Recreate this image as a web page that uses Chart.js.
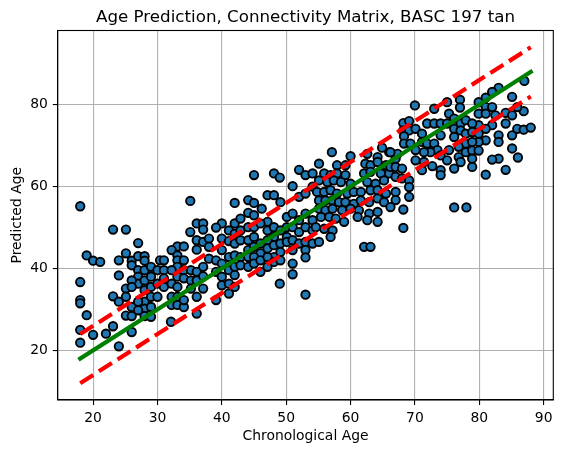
<!DOCTYPE html>
<html>
<head>
<meta charset="utf-8">
<script src="https://cdn.jsdelivr.net/npm/chart.js@4/dist/chart.umd.min.js"></script>
<style>
  body { margin: 0; background: #fff; }
  canvas { display: block; }
</style>
</head>
<body>
<canvas id="ageChart" width="566" height="453"></canvas>
<script>
const chartTitle = "Age Prediction, Connectivity Matrix, BASC 197 tan";
const xLabel = "Chronological Age";
const yLabel = "Predicted Age";

const xTicks = [20, 30, 40, 50, 60, 70, 80, 90];
const yTicks = [20, 40, 60, 80];

// reference lines: identity and +/- 6 years
const lineX = [18, 88];
const identityY = [18, 88];
const upperY = [24, 94];
const lowerY = [12, 82];

// chronological age of each subject
const chronological = [
  18.0, 23.1, 25.1, 27.0, 19.0, 20.0, 21.1, 24.0, 25.1, 26.0,
  26.0, 27.0, 28.0, 28.0, 24.0, 18.0, 18.0, 18.0, 23.1, 24.0,
  25.1, 25.1, 25.1, 26.0, 26.0, 19.0, 18.0, 18.0, 20.0, 22.0,
  23.1, 24.0, 26.0, 27.0, 27.0, 27.0, 28.0, 28.0, 28.0, 28.0,
  28.0, 28.0, 26.0, 26.0, 27.0, 27.0, 29.0, 29.0, 29.0, 29.0,
  29.0, 29.0, 30.0, 30.0, 30.0, 30.4,
  35.1, 36.1, 37.1, 35.1, 37.1, 40.0, 39.1, 41.1, 36.1, 36.1,
  37.1, 38.0, 38.0, 40.0, 40.0, 41.1, 33.1, 34.1, 32.2, 33.1,
  31.0, 33.1, 33.1, 34.1, 31.0, 31.0, 31.0, 32.2, 32.2, 32.2,
  32.2, 33.1, 33.1, 33.1, 33.1, 34.1, 34.1, 34.1, 35.2, 35.2,
  35.2, 36.1, 36.1, 36.1, 37.1, 37.1, 37.1, 38.0, 39.1, 39.1,
  39.1, 40.0, 40.0, 40.0, 41.1, 41.1, 41.1, 41.1, 32.1, 36.1,
  34.1,
  45.0, 48.1, 49.0, 52.0, 53.0, 54.1, 51.0, 52.0, 53.0, 54.1,
  47.1, 48.1, 49.1, 42.0, 44.1, 45.0, 46.2, 44.1, 45.0, 42.0,
  42.9, 47.1, 47.1, 48.1, 48.1, 49.1, 50.1, 50.1, 50.1, 51.0,
  51.0, 52.0, 52.0, 53.0, 53.0, 54.1, 54.1, 42.0, 42.9, 44.1,
  45.0, 46.0, 42.0, 42.9, 44.1, 44.1, 45.0, 45.0, 46.0, 46.0,
  47.1, 47.1, 48.1, 48.1, 49.1, 49.1, 50.1, 51.0, 51.0, 52.0,
  53.0, 53.0, 53.0, 54.1, 42.0, 42.0, 42.0, 42.0, 42.9, 42.9,
  44.1, 44.1, 45.0, 45.0, 46.0, 46.0, 47.1, 47.1, 48.1, 49.1,
  51.0, 51.0, 49.0, 53.0,
  57.1, 60.0, 62.6, 64.2, 66.0, 55.1, 57.9, 59.2, 62.3, 63.1,
  64.2, 65.5, 55.9, 56.9, 57.9, 59.2, 62.1, 63.1, 64.7, 66.0,
  55.1, 56.4, 57.4, 58.5, 60.0, 62.6, 63.9, 65.2, 54.8, 55.9,
  56.9, 57.9, 59.5, 60.5, 61.6, 63.1, 64.2, 65.5, 55.1, 56.1,
  57.2, 58.2, 59.2, 60.5, 61.6, 62.9, 64.2, 65.2, 55.1, 56.1,
  57.2, 58.7, 60.0, 61.3, 62.9, 64.2, 55.4, 56.7, 57.7, 59.0,
  61.1, 62.6, 64.2, 54.6, 55.9, 57.2, 55.1, 56.9, 62.1, 63.1,
  64.9,
  70.0, 73.0, 75.0, 77.0, 77.0, 68.2, 69.1, 68.2, 69.1, 68.3,
  68.3, 69.3, 70.1, 71.1, 71.1, 71.9, 73.0, 74.0, 71.9, 73.0,
  74.0, 75.0, 75.3, 76.1, 76.1, 76.1, 77.1, 77.1, 77.9, 77.9,
  77.9, 76.8, 76.8, 77.9, 75.3, 73.5, 74.0, 72.4, 71.4, 70.1,
  70.1, 71.4, 71.1, 72.7, 74.0, 74.0, 75.0, 76.1, 77.1, 67.0,
  67.3, 66.2, 66.2, 67.0, 68.0, 67.0, 68.0, 69.1, 69.1, 69.1,
  67.0, 67.0, 66.2, 68.2, 68.2, 76.1, 78.0,
  87.0, 85.1, 83.0, 82.0, 81.0, 79.9, 81.0, 82.0, 79.9, 81.0,
  82.5, 84.1, 85.1, 86.9, 85.9, 84.1, 82.0, 81.0, 79.9, 78.9,
  78.9, 79.9, 81.0, 79.9, 78.9, 78.9, 79.9, 78.9, 78.9, 83.0,
  83.0, 85.1, 85.9, 86.9, 88.0, 85.1, 86.0, 83.0, 82.0, 84.1,
  81.0
];

// model prediction for the same subjects
const predicted = [
  55.2, 49.5, 49.5, 46.2, 43.2, 41.9, 41.6, 42.0, 43.7, 41.9,
  40.8, 43.0, 43.0, 41.9, 38.3, 36.7, 32.3, 31.5, 33.2, 31.9,
  35.1, 33.1, 28.5, 30.6, 28.4, 28.6, 25.0, 21.9, 23.8, 24.1,
  25.9, 21.0, 24.5, 39.6, 38.0, 36.3, 39.6, 37.1, 34.7, 31.9,
  30.2, 28.4, 37.1, 35.5, 31.9, 29.8, 40.4, 38.0, 35.5, 33.1,
  30.6, 28.2, 39.6, 36.3, 33.1, 42.0,
  56.5, 51.0, 51.0, 48.9, 49.5, 51.0, 50.0, 49.3, 46.9, 44.6,
  46.5, 47.3, 45.3, 47.3, 44.5, 46.7, 45.4, 45.4, 44.5, 43.2,
  42.0, 42.0, 40.4, 42.0, 39.6, 37.6, 35.5, 39.6, 36.3, 33.1,
  31.1, 38.0, 35.5, 33.1, 31.1, 39.6, 37.6, 30.6, 39.6, 37.1,
  35.1, 39.2, 37.1, 33.1, 40.4, 38.1, 35.1, 42.4, 42.0, 39.2,
  32.3, 41.2, 38.0, 35.9, 42.8, 39.6, 36.3, 33.9, 27.0, 29.0,
  32.3,
  62.8, 63.2, 62.2, 64.1, 62.8, 63.2, 60.1, 57.5, 58.3, 60.0,
  57.9, 57.9, 56.2, 56.0, 56.7, 56.0, 54.6, 53.6, 53.0, 51.0,
  52.2, 51.4, 49.3, 50.1, 47.7, 49.3, 52.6, 50.1, 47.7, 53.4,
  50.1, 51.8, 48.9, 53.4, 50.1, 51.8, 49.3, 48.5, 49.3, 50.1,
  50.1, 51.0, 46.1, 46.9, 46.9, 44.5, 47.7, 45.3, 46.1, 43.7,
  46.9, 44.9, 45.7, 42.8, 46.1, 44.0, 46.5, 46.9, 44.5, 46.1,
  46.5, 44.5, 42.7, 46.1, 43.2, 40.4, 38.4, 35.5, 42.8, 40.8,
  42.8, 40.4, 42.8, 41.2, 42.0, 39.2, 42.8, 40.4, 41.6, 42.0,
  41.2, 38.6, 36.3, 33.6,
  68.4, 67.4, 68.0, 67.2, 68.4, 65.6, 65.2, 65.2, 65.6, 65.2,
  66.0, 65.2, 63.2, 62.8, 63.2, 62.8, 63.2, 63.6, 63.2, 63.2,
  61.5, 61.1, 61.5, 61.1, 60.7, 61.1, 60.7, 61.5, 58.7, 58.7,
  59.1, 58.3, 58.3, 58.7, 58.7, 59.1, 59.1, 58.3, 56.6, 56.6,
  56.6, 56.2, 56.2, 55.8, 56.6, 56.2, 57.1, 56.2, 54.6, 54.2,
  54.6, 54.2, 54.6, 54.2, 53.4, 53.8, 52.6, 52.6, 52.2, 51.4,
  52.6, 51.8, 51.4, 50.1, 49.7, 49.3, 46.5, 47.7, 45.3, 45.3,
  69.5,
  79.8, 79.0, 80.6, 81.2, 79.3, 75.5, 76.0, 73.7, 73.7, 72.3,
  70.5, 70.5, 74.1, 72.9, 70.9, 75.4, 75.4, 75.4, 70.5, 70.5,
  72.5, 75.4, 77.8, 76.6, 74.1, 72.1, 75.4, 73.7, 76.2, 72.9,
  70.5, 69.7, 67.2, 68.4, 68.9, 68.9, 67.6, 68.4, 68.4, 68.9,
  66.4, 66.0, 64.0, 65.0, 64.0, 62.8, 66.4, 64.4, 66.0, 66.8,
  68.0, 68.4, 64.8, 64.8, 64.4, 62.4, 62.0, 61.5, 59.9, 57.5,
  58.7, 56.7, 55.0, 54.4, 49.9, 54.9, 54.9,
  85.8, 81.9, 84.1, 83.1, 81.7, 80.6, 79.4, 79.4, 77.8, 77.8,
  77.4, 78.0, 77.4, 78.4, 79.4, 75.4, 75.0, 74.1, 75.0, 75.4,
  73.3, 72.9, 71.3, 70.9, 70.9, 68.8, 68.8, 66.8, 64.8, 72.5,
  70.9, 72.5, 74.1, 73.9, 74.4, 69.3, 67.1, 66.8, 66.6, 64.1,
  62.9
];

const font = { family: "'DejaVu Sans', sans-serif", size: 13.9 };

const subjects = chronological.map((x, i) => ({ x, y: predicted[i] }));
const toLine = ys => lineX.map((x, i) => ({ x, y: ys[i] }));

// frame, title and axis labels drawn like matplotlib does
const framePlugin = {
  id: "frame",
  afterDraw(chart) {
    const { ctx, chartArea: a } = chart;
    ctx.save();
    ctx.strokeStyle = "#000";
    ctx.lineWidth = 1.1;
    ctx.strokeRect(a.left, a.top, a.right - a.left, a.bottom - a.top);

    ctx.fillStyle = "#000";
    ctx.textAlign = "center";
    ctx.font = "16.7px 'DejaVu Sans', sans-serif";
    ctx.textBaseline = "alphabetic";
    ctx.fillText(chartTitle, (a.left + a.right) / 2, a.top - 8.3);

    ctx.font = "13.9px 'DejaVu Sans', sans-serif";
    ctx.textBaseline = "top";
    ctx.fillText(xLabel, (a.left + a.right) / 2, 429);

    ctx.translate(24.5, (a.top + a.bottom) / 2);
    ctx.rotate(-Math.PI / 2);
    ctx.textBaseline = "bottom";
    ctx.fillText(yLabel, 0, 0);
    ctx.restore();
  },
};

const lineStyle = {
  showLine: true,
  fill: false,
  pointRadius: 0,
  borderWidth: 4.2,
};

new Chart(document.getElementById("ageChart"), {
  type: "scatter",
  data: {
    datasets: [
      {
        ...lineStyle,
        data: toLine(identityY),
        borderColor: "#008000",
        borderCapStyle: "square",
        order: 0,
      },
      {
        ...lineStyle,
        data: toLine(upperY),
        borderColor: "#ff0000",
        borderDash: [15.4, 6.7],
        order: 1,
      },
      {
        ...lineStyle,
        data: toLine(lowerY),
        borderColor: "#ff0000",
        borderDash: [15.4, 6.7],
        order: 1,
      },
      {
        data: subjects,
        backgroundColor: "#1f77b4",
        borderColor: "#000",
        borderWidth: 1.9,
        pointRadius: 4.2,
        pointHoverRadius: 4.2,
        order: 2,
      },
    ],
  },
  options: {
    responsive: false,
    animation: false,
    events: [],
    layout: { padding: { top: 30.5, right: 12.7, bottom: 0, left: 0 } },
    plugins: { legend: { display: false }, tooltip: { enabled: false } },
    scales: {
      x: {
        type: "linear",
        min: 14.5,
        max: 91.5,
        afterBuildTicks: s => { s.ticks = xTicks.map(v => ({ value: v })); },
        afterFit: s => { s.height = 53; },
        grid: { color: "#b0b0b0", lineWidth: 1.1, tickLength: 4.9, tickColor: "#000", tickWidth: 1.1 },
        border: { color: "#000", width: 1.1 },
        ticks: { color: "#000", font, padding: 4.9, maxRotation: 0, autoSkip: false },
      },
      y: {
        type: "linear",
        min: 7.9,
        max: 98.1,
        afterBuildTicks: s => { s.ticks = yTicks.map(v => ({ value: v })); },
        afterFit: s => { s.width = 57.7; },
        grid: { color: "#b0b0b0", lineWidth: 1.1, tickLength: 4.9, tickColor: "#000", tickWidth: 1.1 },
        border: { color: "#000", width: 1.1 },
        ticks: { color: "#000", font, padding: 4.9, autoSkip: false },
      },
    },
  },
  plugins: [framePlugin],
});
</script>
</body>
</html>
